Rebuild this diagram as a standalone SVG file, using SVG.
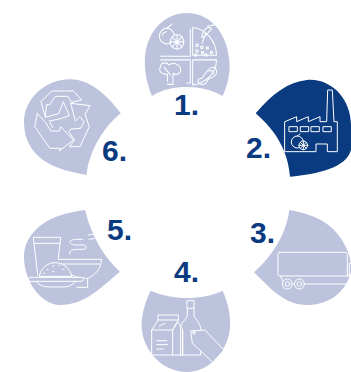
<svg xmlns="http://www.w3.org/2000/svg" width="351" height="372" viewBox="0 0 351 372">
<style>
.p{fill:#bdc3dd}
.d{fill:#0a3a80}
.i{fill:none;stroke:#fff;stroke-width:3;stroke-linejoin:round;stroke-linecap:round}
.f{fill:#bdc3dd}
.n{font:bold 30px "Liberation Sans",Arial,sans-serif;fill:#0a3a80}
</style>
<rect width="351" height="372" fill="#fff"/>
<g id="node1">
<path class="p" d="M152,96C163,89 175,87 187,87C200,87 212,90 222.700,96C228,84 231,71 229,58C226,30 208,13 187,13C165,13 147,31 145,57C144,71 147,84 152,96Z"/>
<g class="i" transform="translate(158 21) scale(.34 .36)">
<path d="M95,22V98H8M102,18C142,22 172,58 172,95H102ZM8,108H95V172H85M102,108H172C172,145 142,172 102,178Z"/>
<circle cx="26" cy="42" r="22"/><path d="M26,20L42,8M12,40A14,14 0 0 1 24,30"/>
<circle class="f" cx="56" cy="58" r="20"/><path d="M56,38V78M36,58H76M42,44L70,72M70,44L42,72"/>
<path d="M128,44C136,50 142,36 158,22C146,10 132,26 128,44ZM140,34L130,62M146,14L170,10"/>
<path d="M112,65h6v6h-6zM126,70h6v6h-6zM112,80h6v6h-6zM128,85h6v6h-6zM142,72h6v6h-6zM154,84h6v6h-6zM108,92h6v5h-6zM138,92h6v5h-6z"/>
<path d="M28,168V148C10,150 0,140 8,125C10,112 28,116 32,122C50,112 70,124 66,140C60,152 48,148 44,146V176H28M18,128C24,136 32,142 36,150"/>
<path d="M128,160C138,150 144,132 162,128C176,132 176,150 160,156C148,160 146,162 142,172C134,180 116,176 118,164C120,158 124,160 128,160ZM150,140C158,134 166,140 162,148"/>
</g>
</g>
<g id="node2">
<path class="d" d="M255.700,113.300C272,94 288,82 307,80C332,78 351,100 351,125V150C346,168 318,174 290,176.700C288,150 275,130 255.700,113.300Z"/>
<g class="i" transform="translate(240 70) scale(.3333)">
<path d="M135,155L170,140V155L205,140V155L240,140V155H260L263,60H277L282,155H292V245H262V222H228V245H135Z"/>
<path d="M148,170h24v15h-24zM182,170h24v15h-24zM214,170h24v15h-24zM250,170h24v15h-24z"/>
<circle cx="172" cy="216" r="18"/><path d="M172,198L180,192"/>
<circle cx="190" cy="226" r="13" fill="#0a3a80"/><path d="M190,213V239M177,226H203M181,217L199,235M199,217L181,235"/>
</g>
</g>
<g id="node3">
<path class="p" d="M289.300,210C312,214 330,221 342,240C348,250 351,258 351,268V272C345,295 326,305 307,305C285,305 272,290 254,272.300C272,256 286,235 289.300,210Z"/>
<g class="i" transform="translate(240 190) scale(.3333)">
<path d="M119,187H317Q322,187 322,192V258H119Q114,258 114,253V192Q114,187 119,187ZM333,220H328V258H333M322,258H333M122,258L128,272M195,282H333"/>
<circle class="f" cx="142" cy="282" r="15"/><circle cx="142" cy="282" r="7"/>
<circle class="f" cx="178" cy="282" r="15"/><circle cx="178" cy="282" r="7"/>
</g>
</g>
<g id="node4">
<path class="p" d="M150.700,290.700C162,295.500 175,298 187,298C200,298 212,295.500 222.700,290.700C228,303 231,316 230,328C228,350 210,372 187,372C162,372 143,350 141.700,328C141,316 145,302 150.700,290.700Z"/>
<g class="i" transform="translate(130 250) scale(.3333)">
<path d="M85,195H145V210H85ZM85,210L65,240V315H128V240L145,210M128,240H65M128,240L143,215L158,240V315H128M80,272H110M80,284H112M80,297H100M88,228L105,220"/>
<path d="M172,152H192V175H172ZM172,175V195C170,210 152,215 152,235V315H212V260M192,175V195C194,210 212,215 212,238M158,315V240"/>
<path class="f" d="M183,243L225,240L282,300L248,337L188,280Z"/><circle cx="192" cy="248" r="4"/>
</g>
</g>
<g id="node5">
<path class="p" d="M85,210C70,212 52,216 40,226C28,236 24,246 24,257C24,282 42,305 60,305C85,305 100,288 120,271.700C105,258 92,238 85,210Z"/>
<g class="i" transform="translate(25 230) scale(.3333)">
<path d="M38,135L25,22H107L100,85M28,40H105"/>
<path d="M100,88H230C227,115 213,135 188,145V172H155M105,102H224M130,130C150,142 170,145 188,145"/>
<path d="M135,72C130,60 145,58 160,58H177C187,58 185,46 175,45H155C143,45 135,42 135,35C137,28 150,28 173,28M192,28C205,28 215,22 217,18C210,13 200,12 190,15"/>
<path class="f" d="M43,138C47,115 67,98 90,98C115,98 135,115 140,138Z"/>
<path d="M65,118h4M83,108h4M101,106h4M113,118h4M83,125h4M55,130h4"/>
<path class="f" d="M17,142H169Q175,142 175,148Q175,154 169,154H17Q11,154 11,148Q11,142 17,142Z"/>
<path d="M33,154C40,165 55,171 70,171H115C130,171 145,165 151,154"/>
</g>
</g>
<g id="node6">
<path class="p" d="M120.700,113.300C105,92 88,79.300 70,79.300C44,79.300 24,100 24,122C24,140 32,152 43,160C58,170 72,172 86.700,175C88,155 102,128 120.700,113.300Z"/>
<g class="i" transform="translate(30 85) scale(.3333)">
<path d="M33,50L65,18H130L155,45L125,52L113,34H76L58,60L50,58L46,97L86,86L100,50L118,92L88,102L58,108L68,128"/>
<path d="M33,50L46,97"/>
<path d="M22,85L14,125L60,190H92L88,198L130,165L92,125L88,138H62L48,114L22,85"/>
<path d="M122,55L180,62L165,88L178,125L150,185H118L134,165L116,140L122,132L152,130L162,110L150,95L136,108L122,55"/>
</g>
</g>
<g id="labels">
<text class="n" x="174" y="115">1.</text>
<text class="n" x="246" y="158">2.</text>
<text class="n" x="250" y="243">3.</text>
<text class="n" x="174" y="282">4.</text>
<text class="n" x="107" y="240">5.</text>
<text class="n" x="102" y="161">6.</text>
</g>
<g id="connectors"></g>
</svg>
